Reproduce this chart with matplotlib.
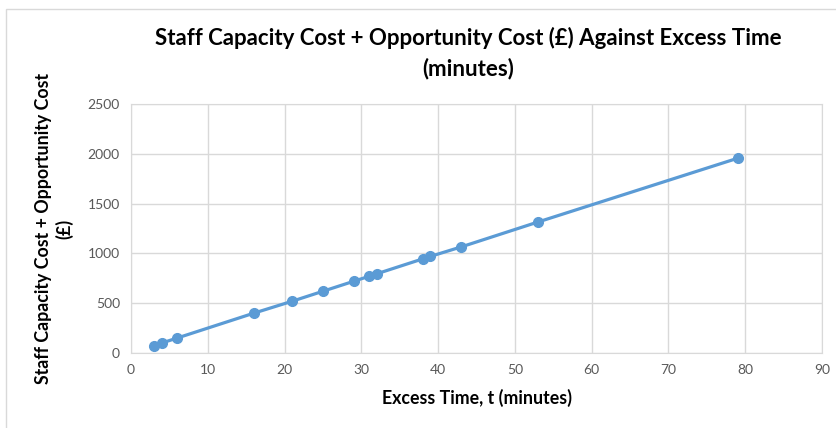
import matplotlib
matplotlib.use("Agg")
import matplotlib.pyplot as plt
from matplotlib.patches import Rectangle

excess_time = [3, 4, 6, 16, 21, 25, 29, 31, 32, 38, 39, 43, 53, 79]
total_cost = [75, 100, 150, 400, 520, 620, 720, 770, 795, 945, 970, 1065, 1315, 1955]
x_ticks = [0, 10, 20, 30, 40, 50, 60, 70, 80, 90]
y_ticks = [0, 500, 1000, 1500, 2000, 2500]

plt.rcParams['font.family'] = ['Lato', 'DejaVu Sans']

fig = plt.figure(figsize=(8.36, 4.28), dpi=100)
fig.patches.append(Rectangle((6/836, -0.1), 1.2, 1 - 9/428 + 0.1, transform=fig.transFigure,
                             fill=False, edgecolor='#d9d9d9', linewidth=1))
ax = fig.add_axes([131/836, 1 - 353/428, (822 - 131)/836, (353 - 104)/428])

ax.plot(excess_time, total_cost, color='#5B9BD5', linewidth=2.3, marker='o',
        markersize=7, zorder=3)

ax.set_xlim(0, 90)
ax.set_ylim(0, 2500)
ax.set_xticks(x_ticks)
ax.set_yticks(y_ticks)
ax.grid(True, color='#d9d9d9', linewidth=1)
ax.set_axisbelow(True)
for s in ax.spines.values():
    s.set_color('#d9d9d9')
ax.tick_params(length=0, colors='#595959', labelsize=10, pad=8)

ax.set_xlabel('Excess Time, t (minutes)', fontsize=12.8, fontweight='bold', color='black', labelpad=9)
ax.set_ylabel('Staff Capacity Cost + Opportunity Cost\n(£)', fontsize=12.8, fontweight='bold',
              color='black', labelpad=10, linespacing=1.25)
fig.text(468/836, 1 - 53/428, 'Staff Capacity Cost + Opportunity Cost (£) Against Excess Time\n(minutes)',
         ha='center', va='center', fontsize=16, fontweight='bold', linespacing=1.45)

fig.savefig('out.png', dpi=100)
